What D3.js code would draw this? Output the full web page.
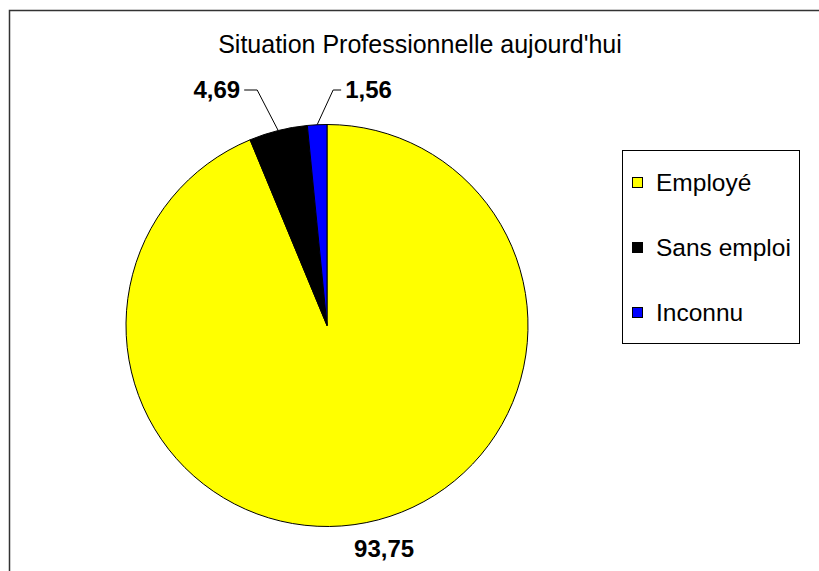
<!DOCTYPE html>
<html>
<head>
<meta charset="utf-8">
<script src="https://cdn.jsdelivr.net/npm/d3@7"></script>
<style>
  body { margin: 0; background: #fff; }
  svg { display: block; font-family: "Liberation Sans", Arial, sans-serif; }
  .title { font-size: 25px; fill: #000; }
  .value-label { font-size: 24px; font-weight: bold; fill: #000; }
  .legend-label { font-size: 24.5px; fill: #000; }
</style>
</head>
<body>
<div id="chart"></div>
<script>
const CATEGORIES = ["Employé", "Sans emploi", "Inconnu"];
const VALUES = [93.75, 4.69, 1.56];
const LABELS = ["93,75", "4,69", "1,56"];
const COLORS = ["#FFFF00", "#000000", "#0000FF"];

function renderPie() {
  const width = 819;
  const height = 571;
  const svg = d3.select("#chart").append("svg").attr("width", width).attr("height", height);

  // chart area frame (runs off the right and bottom edges)
  svg.append("rect")
    .attr("x", 9.5).attr("y", 10.5)
    .attr("width", 830).attr("height", 600)
    .attr("fill", "#fff").attr("stroke", "#333").attr("stroke-width", 1.5);

  svg.append("text")
    .attr("class", "title")
    .attr("x", 420).attr("y", 53)
    .attr("text-anchor", "middle")
    .text("Situation Professionnelle aujourd'hui");

  const cx = 327;
  const cy = 325.5;
  const radius = 201;

  const data = CATEGORIES.map((name, i) => ({ name, value: VALUES[i], label: LABELS[i], color: COLORS[i] }));
  const pie = d3.pie().value((d) => d.value).sort(null);
  const arcs = pie(data);
  const arc = d3.arc().innerRadius(0).outerRadius(radius);

  const g = svg.append("g").attr("transform", `translate(${cx}, ${cy})`);

  g.selectAll("path")
    .data(arcs)
    .join("path")
    .attr("d", arc)
    .attr("fill", (d) => d.data.color)
    .attr("stroke", "#000")
    .attr("stroke-width", 1);

  const mid = (d) => (d.startAngle + d.endAngle) / 2;
  const pointAt = (a, r) => [r * Math.sin(a), -r * Math.cos(a)];

  // big slice: label under the pie, no leader
  const big = arcs[0];
  const [bx, by] = pointAt(mid(big), 226);
  g.append("text")
    .attr("class", "value-label")
    .attr("x", bx + 13).attr("y", by + 10)
    .attr("text-anchor", "middle")
    .text(big.data.label);

  // small slices: leader line with elbow, label above
  const labelY = -235.5;
  arcs.slice(1).forEach((d) => {
    const a = mid(d);
    const [px, py] = pointAt(a, radius);
    const left = d.index === 1;
    const elbowX = left ? px - 21 : px + 16;
    const endX = left ? elbowX - 13 : elbowX + 8;
    g.append("polyline")
      .attr("points", [[px, py], [elbowX, labelY], [endX, labelY]].map((p) => p.join(",")).join(" "))
      .attr("fill", "none")
      .attr("stroke", "#000")
      .attr("stroke-width", 1);
    g.append("text")
      .attr("class", "value-label")
      .attr("x", left ? endX - 4 : endX + 4)
      .attr("y", labelY + 7.5)
      .attr("text-anchor", left ? "end" : "start")
      .text(d.data.label);
  });

  // legend
  const legend = svg.append("g").attr("transform", "translate(622, 150)");
  legend.append("rect")
    .attr("x", 0.5).attr("y", 0.5)
    .attr("width", 177).attr("height", 193)
    .attr("fill", "#fff").attr("stroke", "#000").attr("stroke-width", 1);

  const rowY = d3.scalePoint().domain(CATEGORIES).range([33, 163]);
  const rows = legend.selectAll("g.row").data(data).join("g")
    .attr("class", "row")
    .attr("transform", (d) => `translate(0, ${rowY(d.name)})`);
  rows.append("rect")
    .attr("x", 10.5).attr("y", -5.5)
    .attr("width", 10).attr("height", 10)
    .attr("fill", (d) => d.color)
    .attr("stroke", "#000").attr("stroke-width", 1);
  rows.append("text")
    .attr("class", "legend-label")
    .attr("x", 34).attr("y", 8)
    .text((d) => d.name);
}

renderPie();
</script>
</body>
</html>
